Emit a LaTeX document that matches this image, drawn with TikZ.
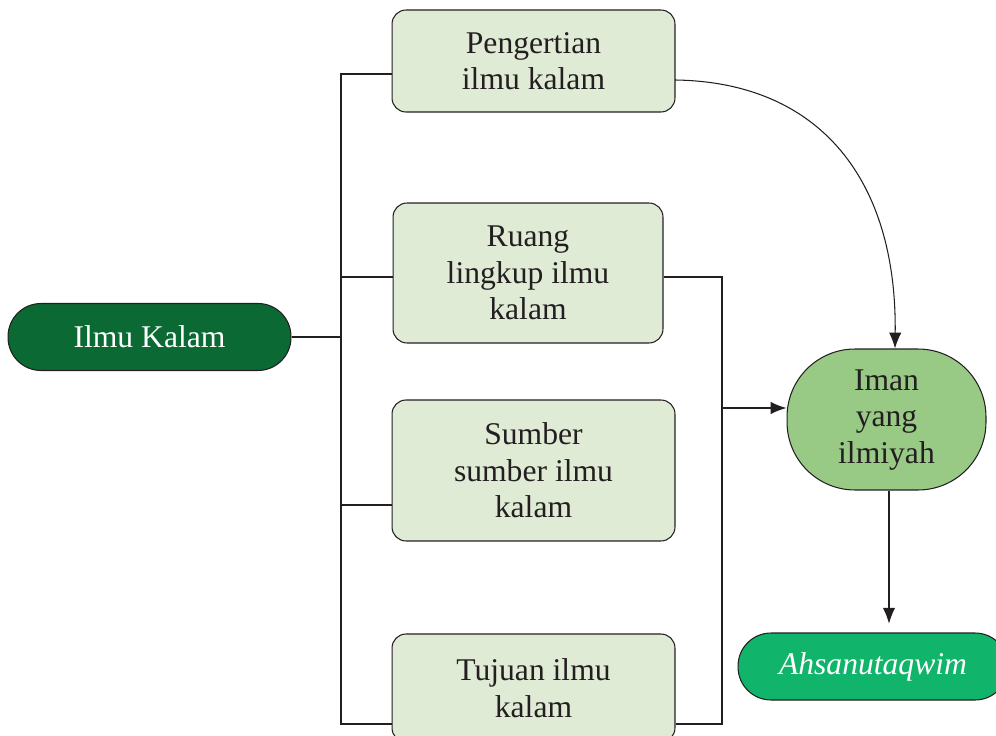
\documentclass[tikz,border=0pt]{standalone}
\usepackage{fontspec}
\setmainfont{Liberation Serif}
\usetikzlibrary{arrows.meta}
\definecolor{kalamgreen}{HTML}{0B6A33}
\definecolor{boxgreen}{HTML}{DFEBD5}
\definecolor{imangreen}{HTML}{98CA86}
\definecolor{ahsangreen}{HTML}{10B46A}
\definecolor{inkgray}{HTML}{231F20}
\begin{document}
\begin{tikzpicture}[x=0.02cm,y=-0.02cm,
        line/.style={draw=inkgray,line width=0.6pt},
        tip/.style={line,-{Latex[length=9pt,width=7pt]}},
        topic/.style={draw=inkgray,line width=0.6pt,fill=boxgreen,rounded corners=0.28cm,
            text=inkgray,align=center,font=\fontsize{18}{20.8}\selectfont,
            minimum width=5.66cm,minimum height=2.04cm},
        pill/.style={draw=inkgray,line width=0.6pt,rounded corners=0.66cm,text=white,
            font=\fontsize{18}{20.8}\selectfont,minimum height=1.34cm}]
        \useasboundingbox (0,0) rectangle (996,736);
        \node (kalam) at (149.5,337) [pill,fill=kalamgreen,minimum width=5.66cm] {Ilmu Kalam};
        \node (pengertian) at (533.5,61) [topic] {Pengertian\\ilmu kalam};
        \node (ruang) at (528,273) [topic,minimum width=5.4cm,minimum height=2.8cm] {Ruang\\lingkup ilmu\\kalam};
        \node (sumber) at (533.5,470.5) [topic,minimum height=2.82cm] {Sumber\\sumber ilmu\\kalam};
        \node (tujuan) at (533.5,688) [topic,minimum height=2.16cm] {Tujuan ilmu\\kalam};
        \node (iman) at (886.5,419.5) [topic,fill=imangreen,rounded corners=1.36cm,
            minimum width=3.98cm,minimum height=2.82cm,text depth=0.12cm] {Iman\\yang\\ilmiyah};
        \node (ahsan) at (873,666.5) [pill,fill=ahsangreen,minimum width=5.4cm] {\itshape Ahsanutaqwim};
        \coordinate (l1) at (341,74);
        \coordinate (l2) at (341,277);
        \coordinate (l3) at (341,505);
        \coordinate (l4) at (341,724);
        \coordinate (r1) at (722,277);
        \coordinate (r2) at (722,408);
        \coordinate (r4) at (722,724);
        \coordinate (c1) at (675,80);
        \coordinate (c2) at (895,0);
        \coordinate (c3) at (889,0);
        \draw[line] (pengertian.west |- l1) -- (l1) -- (l4) -- (tujuan.west |- l4);
        \draw[line] (ruang.west |- l2) -- (l2);
        \draw[line] (sumber.west |- l3) -- (l3);
        \draw[line] (kalam.east) -- (kalam.east -| l1);
        \draw[line] (ruang.east |- r1) -- (r1) -- (r4) -- (tujuan.east |- r4);
        \draw[tip] (r2) -- (iman.west |- r2);
        \draw[tip] (c1) .. controls (820,82) and (897,180) .. (iman.north -| c2);
        \draw[tip,shorten >=5pt] (iman.south -| c3) -- (ahsan.north -| c3);
\end{tikzpicture}
\end{document}
